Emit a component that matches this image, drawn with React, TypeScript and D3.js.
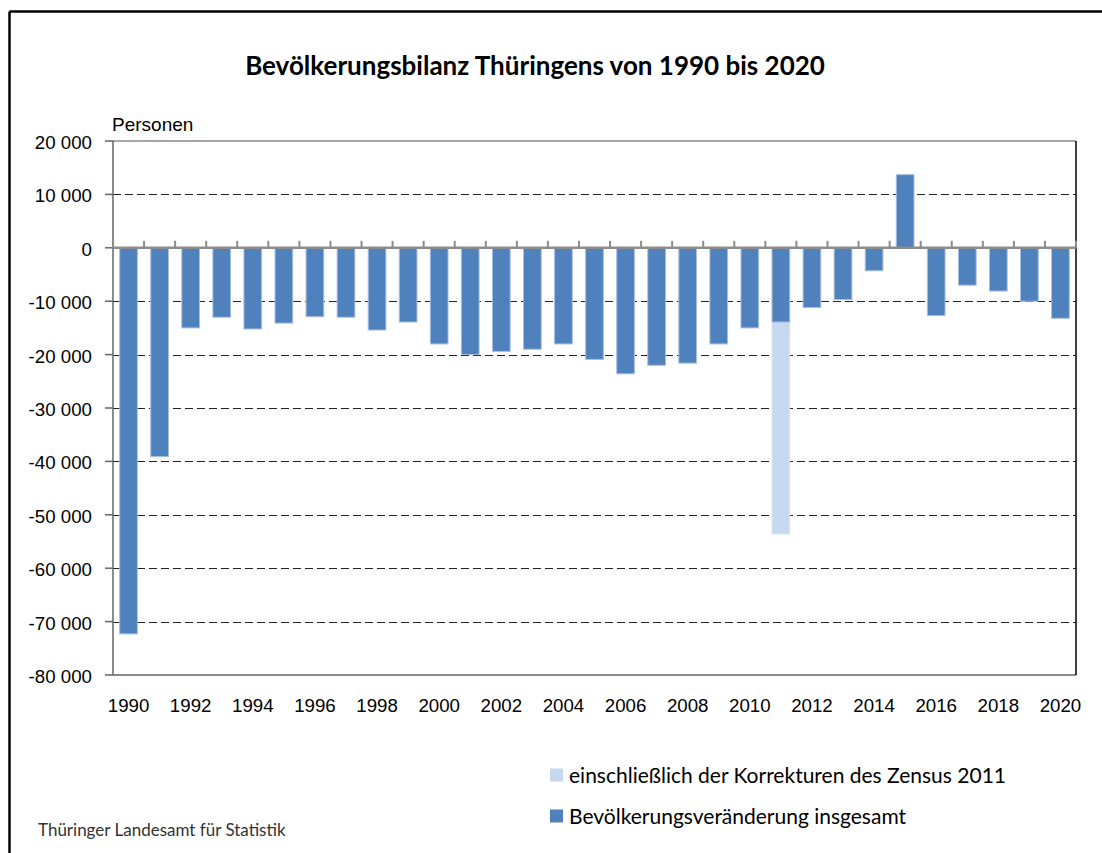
import React from 'react';
import * as d3 from 'd3';

// Jahre (Kategorien)
const years = [
  '1990', '1991', '1992', '1993', '1994', '1995', '1996', '1997', '1998', '1999',
  '2000', '2001', '2002', '2003', '2004', '2005', '2006', '2007', '2008', '2009',
  '2010', '2011', '2012', '2013', '2014', '2015', '2016', '2017', '2018', '2019', '2020',
];

// Bevölkerungsveränderung insgesamt (Personen)
const balance = [
  -72300, -39100, -15000, -13000, -15200, -14100, -12900, -13000, -15400, -13900,
  -18000, -20000, -19400, -19000, -18000, -20900, -23600, -22000, -21600, -18000,
  -15000, -13900, -11200, -9700, -4300, 13700, -12700, -7000, -8100, -10000, -13200,
];

// einschließlich der Korrekturen des Zensus 2011
const censusYears = ['2011'];
const censusValues = [-53600];

const yTicks = [20000, 10000, 0, -10000, -20000, -30000, -40000, -50000, -60000, -70000, -80000];
const xLabelYears = years.filter((_, i) => i % 2 === 0);

const legendLabels = ['einschließlich der Korrekturen des Zensus 2011', 'Bevölkerungsveränderung insgesamt'];

const W = 1102;
const H = 853;
const plot = { left: 113, right: 1076, top: 141, bottom: 675 };

const DARK = '#4F81BD';
const LIGHT = '#C6D9F1';

const de = d3.formatLocale({ decimal: ',', thousands: ' ', grouping: [3], currency: ['', ' €'], minus: '-' });
const fmt = de.format(',d');

export default function App() {
  const x = d3.scaleBand<string>()
    .domain(years)
    .range([plot.left, plot.right])
    .paddingInner(0.43)
    .paddingOuter(0.215);
  const y = d3.scaleLinear().domain([-80000, 20000]).range([plot.bottom, plot.top]);
  const step = x.step();
  const bw = x.bandwidth();
  const y0 = y(0);

  const tickFont = '"Liberation Sans", Arial, sans-serif';
  const textFont = 'Lato, "Open Sans", sans-serif';

  return (
    <svg width={W} height={H} style={{ position: 'absolute', left: 0, top: 0, background: '#fff' }}>
      <rect x={0} y={0} width={W} height={H} fill="#fff" />
      {/* äußerer Rahmen */}
      <line x1={9.5} x2={W} y1={11.5} y2={11.5} stroke="#000" strokeWidth={2.5} />
      <line x1={9.5} x2={9.5} y1={11.5} y2={H} stroke="#000" strokeWidth={2.5} />

      <text x={535} y={75} textAnchor="middle" fontFamily={textFont} fontWeight={700} fontSize={26} fill="#000">
        Bevölkerungsbilanz Thüringens von 1990 bis 2020
      </text>

      <text x={112} y={131} fontFamily={tickFont} fontSize={19} fill="#000">Personen</text>

      {/* Gitterlinien */}
      {yTicks.filter(t => t !== 20000 && t !== -80000 && t !== 0).map(t => (
        <line key={'g' + t} x1={plot.left} x2={plot.right} y1={Math.round(y(t)) + 0.5} y2={Math.round(y(t)) + 0.5}
          stroke="#222" strokeWidth={1} strokeDasharray="8,4" />
      ))}

      {/* Plotrahmen */}
      <line x1={plot.left} x2={plot.right} y1={plot.top} y2={plot.top} stroke="#888" strokeWidth={1.5} />
      <line x1={plot.left} x2={plot.right} y1={plot.bottom} y2={plot.bottom} stroke="#666" strokeWidth={1.5} />
      <line x1={plot.right} x2={plot.right} y1={plot.top} y2={plot.bottom} stroke="#000" strokeWidth={1.5} />
      <line x1={plot.left} x2={plot.left} y1={plot.top} y2={plot.bottom} stroke="#666" strokeWidth={1.5} />

      {/* Y-Achse */}
      {yTicks.map(t => (
        <g key={'y' + t}>
          <line x1={plot.left - 8} x2={plot.left} y1={y(t)} y2={y(t)} stroke="#666" strokeWidth={1.5} />
          <text x={92} y={y(t) + 8} textAnchor="end" fontFamily={tickFont} fontSize={18.7} fill="#000">{fmt(t)}</text>
        </g>
      ))}

      {/* Balken: Zensuskorrektur */}
      {censusYears.map((yr, i) => {
        const v = censusValues[i];
        return (
          <rect key={'c' + yr} x={x(yr)} y={Math.min(y(v), y0)} width={bw} height={Math.abs(y(v) - y0)}
            fill={LIGHT} stroke="#DCE6F2" strokeWidth={1} />
        );
      })}

      {/* Balken: Bevölkerungsveränderung */}
      {years.map((yr, i) => {
        const v = balance[i];
        return (
          <rect key={'b' + yr} x={x(yr)} y={Math.min(y(v), y0)} width={bw} height={Math.abs(y(v) - y0)}
            fill={DARK} stroke="#A7BFDE" strokeWidth={1} />
        );
      })}

      {/* Nulllinie mit Kategorie-Ticks */}
      <line x1={plot.left} x2={plot.right} y1={y0} y2={y0} stroke="#8C8C8C" strokeWidth={2.5} />
      {d3.range(years.length + 1).map(k => {
        const xx = plot.left + k * step;
        return <line key={'t' + k} x1={xx} x2={xx} y1={y0 - 7} y2={y0} stroke="#8C8C8C" strokeWidth={2} />;
      })}

      {/* X-Beschriftung */}
      {xLabelYears.map(yr => (
        <text key={'x' + yr} x={(x(yr) ?? 0) + bw / 2} y={712} textAnchor="middle" fontFamily={tickFont} fontSize={18.7} fill="#000">
          {yr}
        </text>
      ))}

      {/* Legende */}
      {legendLabels.map((lab, i) => (
        <g key={'l' + i} transform={`translate(550, ${775 + i * 41})`}>
          <rect x={0} y={-6.5} width={13} height={13} fill={i === 0 ? LIGHT : DARK} />
          <text x={19} y={7.5} fontFamily={textFont} fontSize={21} fill="#000">{lab}</text>
        </g>
      ))}

      <text x={38} y={836} fontFamily={textFont} fontSize={17} fill="#333">Thüringer Landesamt für Statistik</text>
    </svg>
  );
}
